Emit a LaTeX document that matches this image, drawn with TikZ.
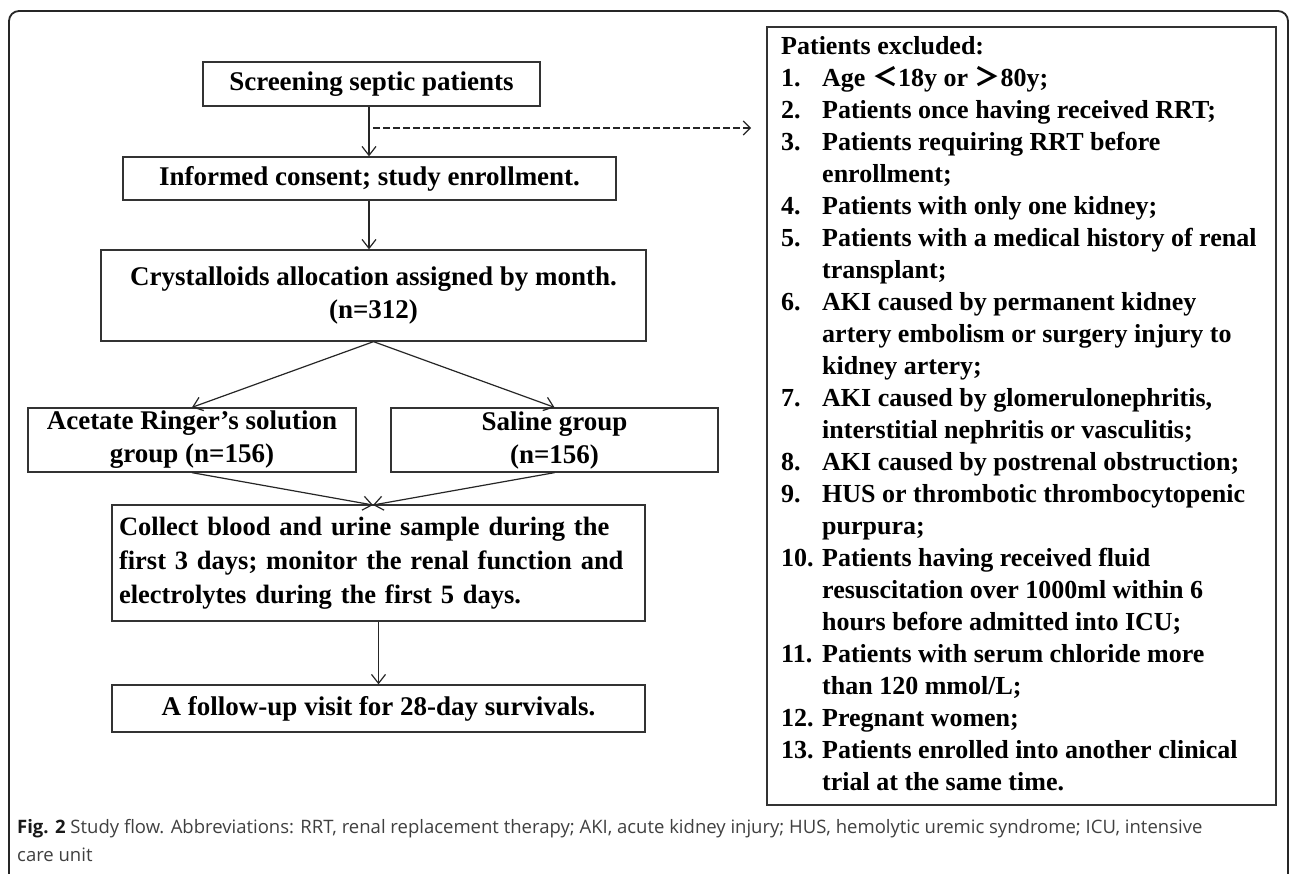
\documentclass[tikz,border=0pt]{standalone}
\usepackage{fontspec}
\setmainfont{Liberation Serif}
\newfontfamily\capfont{Open Sans}
\newfontfamily\cjk{Noto Sans CJK SC}
\usetikzlibrary{arrows.meta}
\tikzset{
  box/.style={draw=black!80, line width=1.3pt, inner sep=0pt, align=center,
    font=\fontsize{27}{33}\selectfont\bfseries},
  arr/.style={draw=black!85, line width=1.2pt,
    -{Straight Barb[length=9pt,width=14pt,line width=1.2pt]}},
  dasharr/.style={draw=black!85, line width=1.1pt, dash pattern=on 7pt off 3pt,
    -{Straight Barb[length=7pt,width=14pt,line width=1.1pt]}},
  frame/.style={draw=black!85, line width=1.8pt, rounded corners=10pt}
}
\newcommand{\itm}[1]{\makebox[41pt][l]{#1}}
\begin{document}
\begin{tikzpicture}[x=1pt,y=-1pt]
\useasboundingbox (0,0) rectangle (1290,873);
\fill[white] (0,0) rectangle (1290,873);
\draw[frame] (9,880) -- (9,11) -- (1288,11) -- (1288,880);

\node[box, minimum width=337pt, minimum height=44pt] (b1) at (371.5,84) {Screening septic patients};
\node[box, minimum width=493pt, minimum height=43pt] (b2) at (369.5,178.5) {Informed consent; study enrollment.};
\node[box, minimum width=545pt, minimum height=91pt] (b3) at (373.5,295.5) {Crystalloids allocation assigned by month.\\(n=312)};
\node[box, minimum width=328pt, minimum height=64pt] (b4) at (192,440) {Acetate Ringer’s solution\\group (n=156)};
\node[box, minimum width=327pt, minimum height=64pt] (b5) at (554.5,440) {Saline group\\(n=156)};
\node[box, minimum width=533pt, minimum height=116pt, text width=519pt, align=left,
  font=\fontsize{26.5}{34}\selectfont\bfseries] (b6) at (378.5,563)
  {Collect blood and urine sample during the\\first 3 days; monitor the renal function and\\electrolytes during the first 5 days.};
\node[box, minimum width=533pt, minimum height=47pt] (b7) at (378.5,708.5) {A follow-up visit for 28-day survivals.};

\node[draw=black!80, line width=1.3pt, minimum width=509pt, minimum height=778pt, inner sep=0pt] (excl) at (1021.5,416) {};
\node[anchor=north west, inner sep=0pt, align=left,
  font=\fontsize{26}{32}\selectfont\bfseries] (extext) at (781,36) {%
Patients excluded:\\
\itm{1.}Age {\cjk ＜}18y or {\cjk ＞}80y;\\
\itm{2.}Patients once having received RRT;\\
\itm{3.}Patients requiring RRT before\\
\itm{}enrollment;\\
\itm{4.}Patients with only one kidney;\\
\itm{5.}Patients with a medical history of renal\\
\itm{}transplant;\\
\itm{6.}AKI caused by permanent kidney\\
\itm{}artery embolism or surgery injury to\\
\itm{}kidney artery;\\
\itm{7.}AKI caused by glomerulonephritis,\\
\itm{}interstitial nephritis or vasculitis;\\
\itm{8.}AKI caused by postrenal obstruction;\\
\itm{9.}HUS or thrombotic thrombocytopenic\\
\itm{}purpura;\\
\itm{10.}Patients having received fluid\\
\itm{}resuscitation over 1000ml within 6\\
\itm{}hours before admitted into ICU;\\
\itm{11.}Patients with serum chloride more\\
\itm{}than 120 mmol/L;\\
\itm{12.}Pregnant women;\\
\itm{13.}Patients enrolled into another clinical\\
\itm{}trial at the same time.};

\coordinate (xa) at (369,0);
\coordinate (d0) at (373,128);
\coordinate (d1) at (751,128);
\draw[arr] (b1.south -| xa) -- (b2.north -| xa);
\draw[dasharr] (d0) -- (d1);
\draw[arr] (b2.south -| xa) -- (b3.north -| xa);
\draw[arr] (b3.south) -- (b4.north);
\draw[arr] (b3.south) -- (b5.north);
\coordinate (m) at (373,505);
\draw[arr] (b4.south) -- (m);
\draw[arr] (b5.south) -- (m);
\draw[arr] (b6.south) -- (b7.north);

\node[anchor=north west, inner sep=0pt, align=left, text=black!75,
  font=\capfont\fontsize{18.5}{28}\selectfont] (cap) at (17,819) {%
{\bfseries\color{black!90}Fig. 2} Study flow. Abbreviations: RRT, renal replacement therapy; AKI, acute kidney injury; HUS, hemolytic uremic syndrome; ICU, intensive\\care unit};
\end{tikzpicture}
\end{document}
